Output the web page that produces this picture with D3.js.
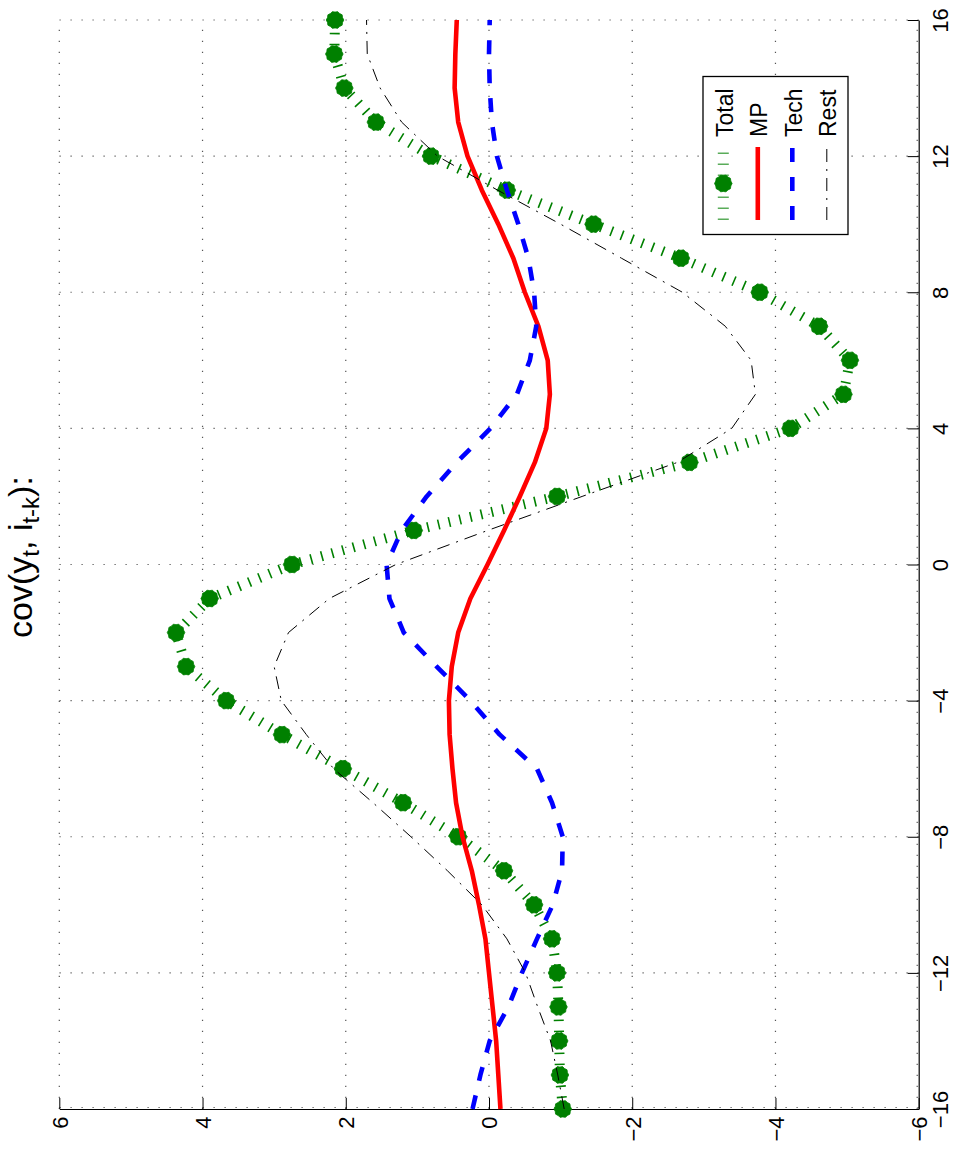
<!DOCTYPE html>
<html>
<head>
<meta charset="utf-8">
<script src="https://cdn.jsdelivr.net/npm/d3@7"></script>
<style>
  html, body { margin: 0; padding: 0; background: #fff; }
  svg { display: block; font-family: "Liberation Sans", Arial, Helvetica, sans-serif; }
</style>
</head>
<body>
<svg id="chart" width="954" height="1149"></svg>
<script>
// ---------------- data ----------------
const lags = d3.range(-16, 17); // k = -16 .. 16
const totalVals = [-1.03, -0.99, -0.98, -0.97, -0.95, -0.88, -0.63, -0.21, 0.43, 1.20,
                   2.04, 2.89, 3.67, 4.23, 4.37, 3.90, 2.75, 1.05, -0.95, -2.80,
                   -4.21, -4.95, -5.04, -4.61, -3.78, -2.68, -1.46, -0.25, 0.81, 1.58,
                   2.02, 2.16, 2.15];
const mpVals    = [-0.16, -0.13, -0.10, -0.05, 0.00, 0.05, 0.14, 0.24, 0.37, 0.46,
                   0.51, 0.55, 0.56, 0.52, 0.43, 0.26, 0.02, -0.21, -0.43, -0.64,
                   -0.80, -0.85, -0.82, -0.69, -0.50, -0.34, -0.13, 0.10, 0.30, 0.43,
                   0.48, 0.47, 0.45];
const techVals  = [0.23, 0.12, -0.01, -0.27, -0.46, -0.67, -0.89, -1.02, -1.03, -0.88,
                   -0.67, -0.15, 0.26, 0.73, 1.19, 1.39, 1.43, 1.22, 0.87, 0.45,
                   -0.02, -0.39, -0.57, -0.66, -0.63, -0.55, -0.41, -0.25, -0.11, -0.04,
                   -0.01, 0.00, -0.01];
const restVals  = [-1.05, -0.96, -0.86, -0.68, -0.51, -0.25, 0.10, 0.58, 1.09, 1.62,
                   2.17, 2.55, 2.90, 3.00, 2.80, 2.23, 1.30, 0.02, -1.30, -2.63,
                   -3.39, -3.72, -3.66, -3.30, -2.70, -1.85, -1.00, -0.12, 0.72, 1.22,
                   1.52, 1.70, 1.71];
const seriesNames = ["Total", "MP", "Tech", "Rest"];
const valueTicks = [6, 4, 2, 0, -2, -4, -6];
const lagTicks = [-16, -12, -8, -4, 0, 4, 8, 12, 16];

// ---------------- layout ----------------
const svg = d3.select("#chart");
const pLeft = 59.3, pRight = 918.7, pTop = 20, pBottom = 1109;
// The chart is rotated: values run horizontally (6 at left, -6 at right), lags vertically.
const xV = d3.scaleLinear().domain([-6, 6]).range([pRight, pLeft]);
const yK = d3.scaleLinear().domain([-16, 16]).range([pBottom, pTop]);

const styles = {
  Total: { color: "#008000", width: 10, dash: "1.6,9.4" },
  MP:    { color: "#ff0000", width: 4.6, dash: null },
  Tech:  { color: "#0000ff", width: 4.6, dash: "14,15" },
  Rest:  { color: "#000000", width: 1, dash: "13,7,2,7" }
};

// ---------------- grid ----------------
const grid = svg.append("g").attr("stroke", "#555").attr("stroke-width", 1.2)
  .attr("stroke-dasharray", "1.2,9.8").attr("fill", "none");
valueTicks.forEach(v => {
  let gx = xV(v);
  if (v === -6) gx -= 1.5;
  grid.append("line").attr("x1", gx).attr("x2", gx).attr("y1", pBottom).attr("y2", pTop);
});
lagTicks.forEach(k => {
  let gy = yK(k);
  if (k === -16) gy -= 1.5;
  grid.append("line").attr("x1", pRight).attr("x2", pLeft).attr("y1", gy).attr("y2", gy);
});

// ---------------- axes ----------------
const fmt = d3.format("d");
const axB = svg.append("g").attr("transform", `translate(0,${pBottom})`)
  .call(d3.axisBottom(xV).tickValues(valueTicks).tickSizeInner(-11).tickSizeOuter(0).tickFormat(fmt));
axB.selectAll("text")
  .attr("x", null).attr("y", null).attr("dy", null)
  .attr("transform", "translate(7.9,7.5) rotate(-90)")
  .attr("text-anchor", "end");

const axR = svg.append("g").attr("transform", `translate(${pRight},0)`)
  .call(d3.axisRight(yK).tickValues(lagTicks).tickSizeInner(-11).tickSizeOuter(0).tickFormat(fmt));
axR.selectAll("text")
  .attr("x", null).attr("y", null).attr("dy", null)
  .attr("transform", `translate(${948 - pRight},0) rotate(-90)`)
  .attr("text-anchor", "middle");

[axB, axR].forEach(a => {
  a.attr("font-size", 22).attr("font-family", "'Liberation Sans', Arial, sans-serif");
  a.selectAll("text").attr("fill", "#000");
  a.selectAll("line").attr("stroke", "#000").attr("stroke-width", 1);
  a.select(".domain").attr("stroke", "#000").attr("stroke-width", 1.2);
});

// ---------------- series ----------------
function toPts(vals) { return lags.map((k, i) => ({ k, v: vals[i] })); }
const line = d3.line().x(d => xV(d.v)).y(d => yK(d.k));

function markerPath(cx, cy, r) {
  const n = 20, pts = [];
  for (let i = 0; i < n; i++) {
    const a = (i / n) * 2 * Math.PI;
    const rr = i % 2 === 0 ? r : r * 0.9;
    pts.push([cx + rr * Math.cos(a), cy + rr * Math.sin(a)]);
  }
  return "M" + pts.map(p => p.join(",")).join("L") + "Z";
}

const plot = svg.append("g");
const seriesData = { Total: totalVals, MP: mpVals, Tech: techVals, Rest: restVals };
seriesNames.forEach(name => {
  const s = styles[name];
  plot.append("path")
    .datum(toPts(seriesData[name]))
    .attr("d", line)
    .attr("fill", "none")
    .attr("stroke", s.color)
    .attr("stroke-width", s.width)
    .attr("stroke-dasharray", s.dash)
    .attr("stroke-linecap", "butt")
    .attr("stroke-linejoin", "round");
  if (name === "Total") {
    plot.selectAll("path.mk").data(toPts(totalVals)).enter().append("path")
      .attr("class", "mk")
      .attr("d", d => markerPath(xV(d.v), yK(d.k), 8.8))
      .attr("fill", "#008000").attr("stroke", "#008000").attr("stroke-width", 0.8);
  }
});

// ---------------- legend ----------------
const lg = svg.append("g");
lg.append("rect").attr("x", 703).attr("y", 76.5).attr("width", 145).attr("height", 158)
  .attr("fill", "#fff").attr("stroke", "#000").attr("stroke-width", 1.3);
seriesNames.forEach((name, i) => {
  const s = styles[name];
  const cx = 723.3 + i * 34.5;
  lg.append("line").attr("x1", cx).attr("x2", cx).attr("y1", 220).attr("y2", 147)
    .attr("stroke", s.color).attr("stroke-width", name === "Total" ? 11 : s.width)
    .attr("stroke-dasharray", s.dash)
    .attr("stroke-opacity", name === "Total" ? 0.65 : 1);
  if (name === "Total") {
    lg.append("path").attr("d", markerPath(cx, 183.5, 8.8))
      .attr("fill", "#008000").attr("stroke", "#008000").attr("stroke-width", 0.8);
  }
  lg.append("text")
    .attr("transform", `translate(${cx + 9.5},137) rotate(-90)`)
    .attr("text-anchor", "start")
    .attr("font-size", 23)
    .attr("fill", "#000")
    .text(name);
});

// ---------------- title ----------------
const title = svg.append("text")
  .attr("transform", "translate(32,557) rotate(-90)")
  .attr("text-anchor", "middle")
  .attr("font-size", 34)
  .attr("fill", "#000");
title.append("tspan").text("cov(y");
title.append("tspan").attr("dy", 7).attr("font-size", 24).text("t");
title.append("tspan").attr("dy", -7).text(", i");
title.append("tspan").attr("dy", 7).attr("font-size", 24).text("t-k");
title.append("tspan").attr("dy", -7).text("):");
</script>
</body>
</html>
